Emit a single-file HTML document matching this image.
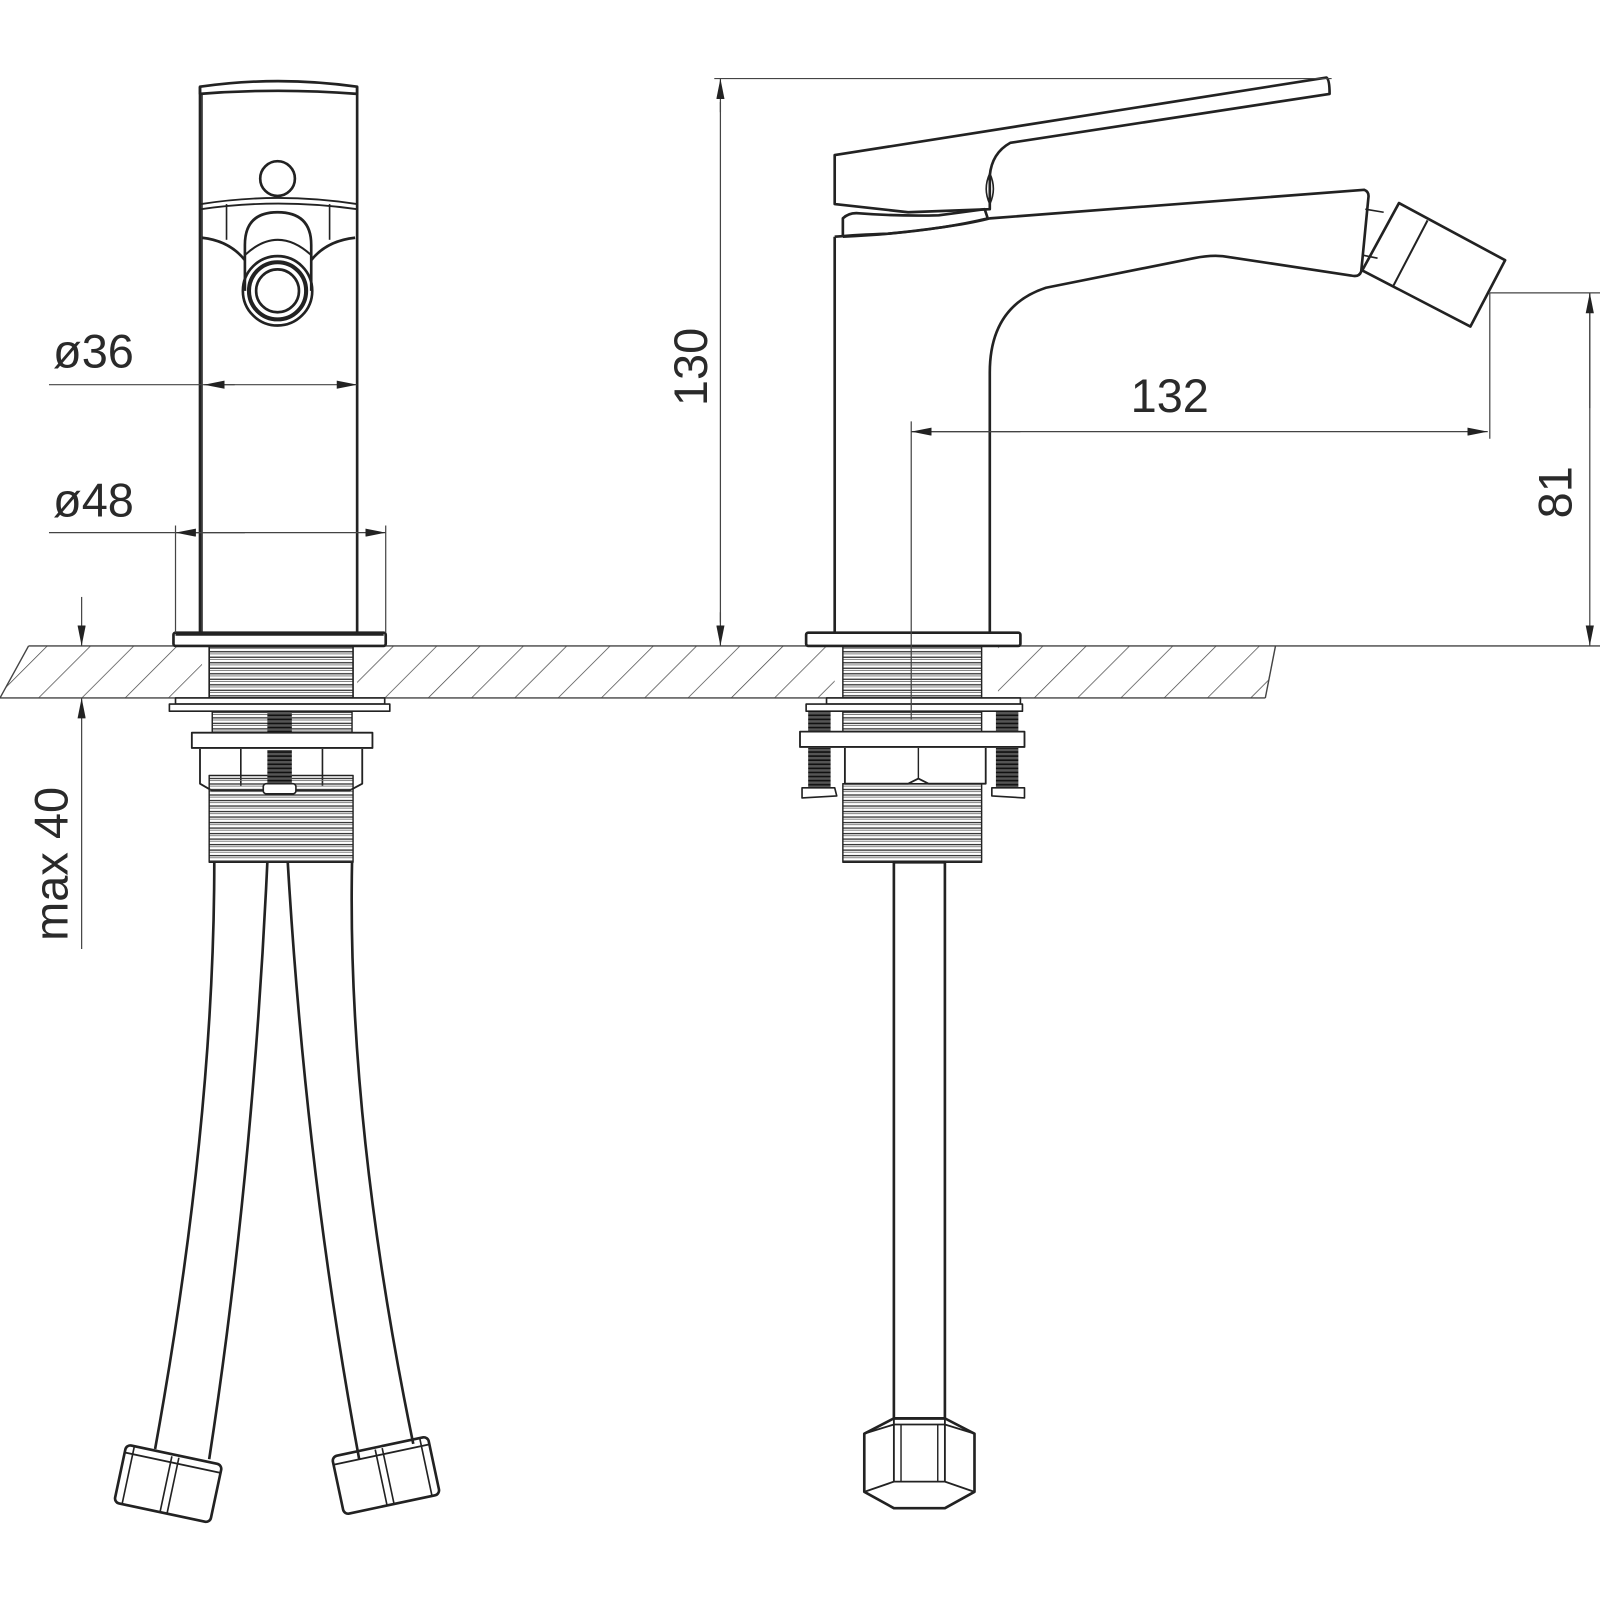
<!DOCTYPE html>
<html><head><meta charset="utf-8"><style>
html,body{margin:0;padding:0;background:#fff;width:1600px;height:1600px;overflow:hidden}
svg{display:block}
text{font-family:"Liberation Sans",sans-serif;fill:#2a2a2a;font-size:46px}
</style></head><body>
<svg width="1600" height="1600" viewBox="0 0 1568 1568" xmlns="http://www.w3.org/2000/svg">
<defs>
<pattern id="hatch" width="30" height="30" patternUnits="userSpaceOnUse" patternTransform="rotate(45)">
<line x1="0" y1="0" x2="0" y2="30" stroke="#444" stroke-width="1.4"/>
</pattern>
<pattern id="thr" width="10" height="5.4" patternUnits="userSpaceOnUse">
<line x1="0" y1="1.5" x2="10" y2="1.5" stroke="#333" stroke-width="1.3"/>
<line x1="0" y1="3.6" x2="10" y2="3.6" stroke="#777" stroke-width="0.9"/>
</pattern>
<pattern id="thrd" width="10" height="4" patternUnits="userSpaceOnUse">
<rect width="10" height="4" fill="#555"/>
<line x1="0" y1="1" x2="10" y2="1" stroke="#111" stroke-width="1.6"/>
</pattern>
<marker id="ar" viewBox="0 0 20 8" refX="20" refY="4" markerWidth="20" markerHeight="8" markerUnits="userSpaceOnUse" orient="auto-start-reverse">
<path d="M0,0 L20,4 L0,8 z" fill="#222"/>
</marker>
</defs>

<path d="M28,633 L1250,633 L1240,684 L0,684 Z" fill="url(#hatch)" stroke="none"/>
<rect x="198" y="630" width="152" height="56" fill="#fff"/>
<rect x="818" y="630" width="160" height="56" fill="#fff"/>
<line x1="28" y1="633" x2="1568" y2="633" stroke="#444" stroke-width="1.4"/>
<line x1="0" y1="684" x2="1240" y2="684" stroke="#444" stroke-width="1.4"/>
<line x1="28" y1="633" x2="0" y2="684" stroke="#444" stroke-width="1.4"/>
<line x1="1250" y1="633" x2="1240" y2="684" stroke="#444" stroke-width="1.4"/>

<g fill="none" stroke="#222" stroke-width="2.6" stroke-linejoin="round">
<!-- LEFT VIEW -->
<path d="M196,85 Q272,74 350,85 L350,92 Q272,86 196,92 Z"/>
<line x1="196" y1="85" x2="196" y2="620"/>
<line x1="350" y1="85" x2="350" y2="620"/>
<line x1="198" y1="92" x2="198" y2="620" stroke-width="1.4"/>
<circle cx="272" cy="175" r="17"/>
<path d="M197,200 Q272,188 350,200 M197,205 Q272,194 350,205" stroke-width="1.8"/>
<path d="M198,233 Q225,236 240,255 M348,233 Q320,236 305,255"/>
<line x1="222" y1="200" x2="222" y2="235" stroke-width="1.6"/>
<line x1="323" y1="200" x2="323" y2="235" stroke-width="1.6"/>
<path d="M240,285 L240,240 Q240,208 272,208 Q305,208 305,240 L305,285"/>
<path d="M240,250 Q272,220 305,250" stroke-width="2"/>
<circle cx="272" cy="285" r="34"/>
<circle cx="272" cy="285" r="28" stroke-width="4"/>
<circle cx="272" cy="285" r="21"/>
<rect x="170" y="620" width="208" height="13" rx="2" stroke-width="2.6"/>
<line x1="172" y1="621" x2="376" y2="621" stroke-width="4"/>
<rect x="205" y="634" width="141" height="50" fill="url(#thr)" stroke-width="1.6"/>
<rect x="172" y="684" width="205" height="6" fill="#fff" stroke-width="1.6"/>
<rect x="166" y="690" width="216" height="7" fill="#fff" stroke-width="1.6"/>
<rect x="208" y="697" width="137" height="21" fill="url(#thr)" stroke-width="1.4"/>
<rect x="262" y="697" width="24" height="21" fill="url(#thrd)" stroke="none"/>
<rect x="188" y="718" width="177" height="15" fill="#fff" stroke-width="1.8"/>
<path d="M196,734 L196,768 L208,775 L270,775 M355,734 L355,768 L342,775 L280,775" fill="#fff" stroke-width="1.8"/>
<line x1="236" y1="734" x2="236" y2="770" stroke-width="1.6"/>
<line x1="316" y1="734" x2="316" y2="770" stroke-width="1.6"/>
<rect x="205" y="760" width="141" height="85" fill="url(#thr)" stroke-width="1.4"/>
<rect x="262" y="735" width="24" height="40" fill="url(#thrd)" stroke="none"/>
<rect x="258" y="768" width="32" height="10" rx="3" fill="#fff" stroke-width="1.6"/>
<path d="M210,845 Q210,1100 152,1420"/>
<path d="M262,845 Q248,1150 205,1430"/>
<path d="M282,845 Q300,1150 352,1430"/>
<path d="M345,845 Q340,1100 405,1415"/>
<g transform="translate(165,1453) rotate(12)">
<rect x="-48" y="-28" width="96" height="58" rx="5"/>
<line x1="-48" y1="-20" x2="48" y2="-20" stroke-width="1.8"/>
<line x1="-40" y1="-28" x2="-40" y2="30" stroke-width="1.6"/>
<line x1="-2" y1="-26" x2="-2" y2="30" stroke-width="1.6"/>
<line x1="5" y1="-26" x2="5" y2="30" stroke-width="1.6"/>
</g>
<g transform="translate(378,1445) rotate(-12)">
<rect x="-48" y="-28" width="96" height="58" rx="5"/>
<line x1="-48" y1="-20" x2="48" y2="-20" stroke-width="1.8"/>
<line x1="40" y1="-28" x2="40" y2="30" stroke-width="1.6"/>
<line x1="-5" y1="-26" x2="-5" y2="30" stroke-width="1.6"/>
<line x1="2" y1="-26" x2="2" y2="30" stroke-width="1.6"/>
</g>

<!-- RIGHT VIEW -->
<path d="M818,152 L1300,76 Q1303,78 1303,92 L990,140 Q972,150 970,172 L970,205 L890,208 L818,200 Z"/>
<path d="M970,170 Q963,185 970,200 Q977,185 970,170" stroke-width="1.6"/>
<path d="M826,232 L826,214 Q832,208 842,209 Q880,212 920,211 L965,205 L968,214 Q910,228 826,232"/>
<path d="M818,232 Q840,230 870,229 Q940,222 970,214 L1337,186 Q1342,188 1341,194 L1334,266 Q1332,272 1324,270 L1205,252 Q1190,249 1170,253 L1025,282 Q970,300 970,365 L970,620"/>
<path d="M818,232 L818,620"/>
<path d="M1338,205 L1356,208 M1335,250 L1350,253" stroke-width="1.6"/>
<path d="M1371,199 L1475,255 L1441,320 L1335,265 Z"/>
<line x1="1399" y1="216" x2="1365" y2="281" stroke-width="2"/>
<rect x="790" y="620" width="210" height="13" rx="2"/>
<rect x="826" y="634" width="136" height="50" fill="url(#thr)" stroke-width="1.4"/>
<rect x="810" y="684" width="190" height="6" fill="#fff" stroke-width="1.6"/>
<rect x="790" y="690" width="212" height="7" fill="#fff" stroke-width="1.6"/>
<rect x="826" y="697" width="136" height="20" fill="url(#thr)" stroke-width="1.4"/>
<rect x="792" y="697" width="22" height="20" fill="url(#thrd)" stroke="none"/>
<rect x="976" y="697" width="22" height="20" fill="url(#thrd)" stroke="none"/>
<rect x="784" y="717" width="220" height="15" fill="#fff" stroke-width="1.8"/>
<path d="M828,733 L828,768 L890,768 L900,763 L910,768 L966,768 L966,733" fill="#fff" stroke-width="1.8"/>
<line x1="900" y1="733" x2="900" y2="763" stroke-width="1.4"/>
<rect x="792" y="733" width="22" height="40" fill="url(#thrd)" stroke="none"/>
<rect x="976" y="733" width="22" height="40" fill="url(#thrd)" stroke="none"/>
<path d="M786,772 L818,772 L820,780 L786,782 Z M972,772 L1004,772 L1004,782 L972,780 Z" fill="#fff" stroke-width="1.6"/>
<rect x="826" y="768" width="136" height="77" fill="url(#thr)" stroke-width="1.4"/>
<rect x="876" y="845" width="50" height="545"/>
<path d="M876,1390 L926,1390 L955,1405 L955,1462 L926,1478 L876,1478 L847,1462 L847,1405 Z"/>
<path d="M847,1405 L876,1396 L926,1396 L955,1405 M876,1390 L876,1452 M926,1390 L926,1452 M847,1462 L876,1452 L926,1452 L955,1462" stroke-width="1.8"/>
<line x1="883" y1="1396" x2="883" y2="1452" stroke-width="1.4"/>
<line x1="919" y1="1396" x2="919" y2="1452" stroke-width="1.4"/>
</g>

<g stroke="#444" stroke-width="1.2" fill="none">
<line x1="48" y1="377" x2="350" y2="377" marker-end="url(#ar)"/>
<line x1="230" y1="377" x2="200" y2="377" marker-end="url(#ar)"/>
<line x1="48" y1="522" x2="378" y2="522" marker-end="url(#ar)"/>
<line x1="240" y1="522" x2="172" y2="522" marker-end="url(#ar)"/>
<line x1="172" y1="515" x2="172" y2="620"/>
<line x1="378" y1="515" x2="378" y2="620"/>
<line x1="80" y1="585" x2="80" y2="633" marker-end="url(#ar)"/>
<line x1="80" y1="930" x2="80" y2="684" marker-end="url(#ar)"/>
<line x1="700" y1="77" x2="1305" y2="77"/>
<line x1="706" y1="110" x2="706" y2="77" marker-end="url(#ar)"/>
<line x1="706" y1="600" x2="706" y2="633" marker-end="url(#ar)"/>
<line x1="706" y1="100" x2="706" y2="610"/>
<line x1="893" y1="413" x2="893" y2="705"/>
<line x1="893" y1="423" x2="1458" y2="423" marker-end="url(#ar)"/>
<line x1="1000" y1="423" x2="893" y2="423" marker-end="url(#ar)"/>
<line x1="1460" y1="287" x2="1460" y2="430"/>
<line x1="1460" y1="287" x2="1568" y2="287"/>
<line x1="1558" y1="287" x2="1558" y2="633" marker-end="url(#ar)"/>
<line x1="1558" y1="400" x2="1558" y2="287" marker-end="url(#ar)"/>
</g>
<text x="52" y="360">ø36</text>
<text x="52" y="506">ø48</text>
<text x="1108" y="404">132</text>
<text transform="translate(693,398) rotate(-90)">130</text>
<text transform="translate(1540,508) rotate(-90)">81</text>
<text transform="translate(66,922) rotate(-90)">max 40</text>
</svg>
</body></html>
